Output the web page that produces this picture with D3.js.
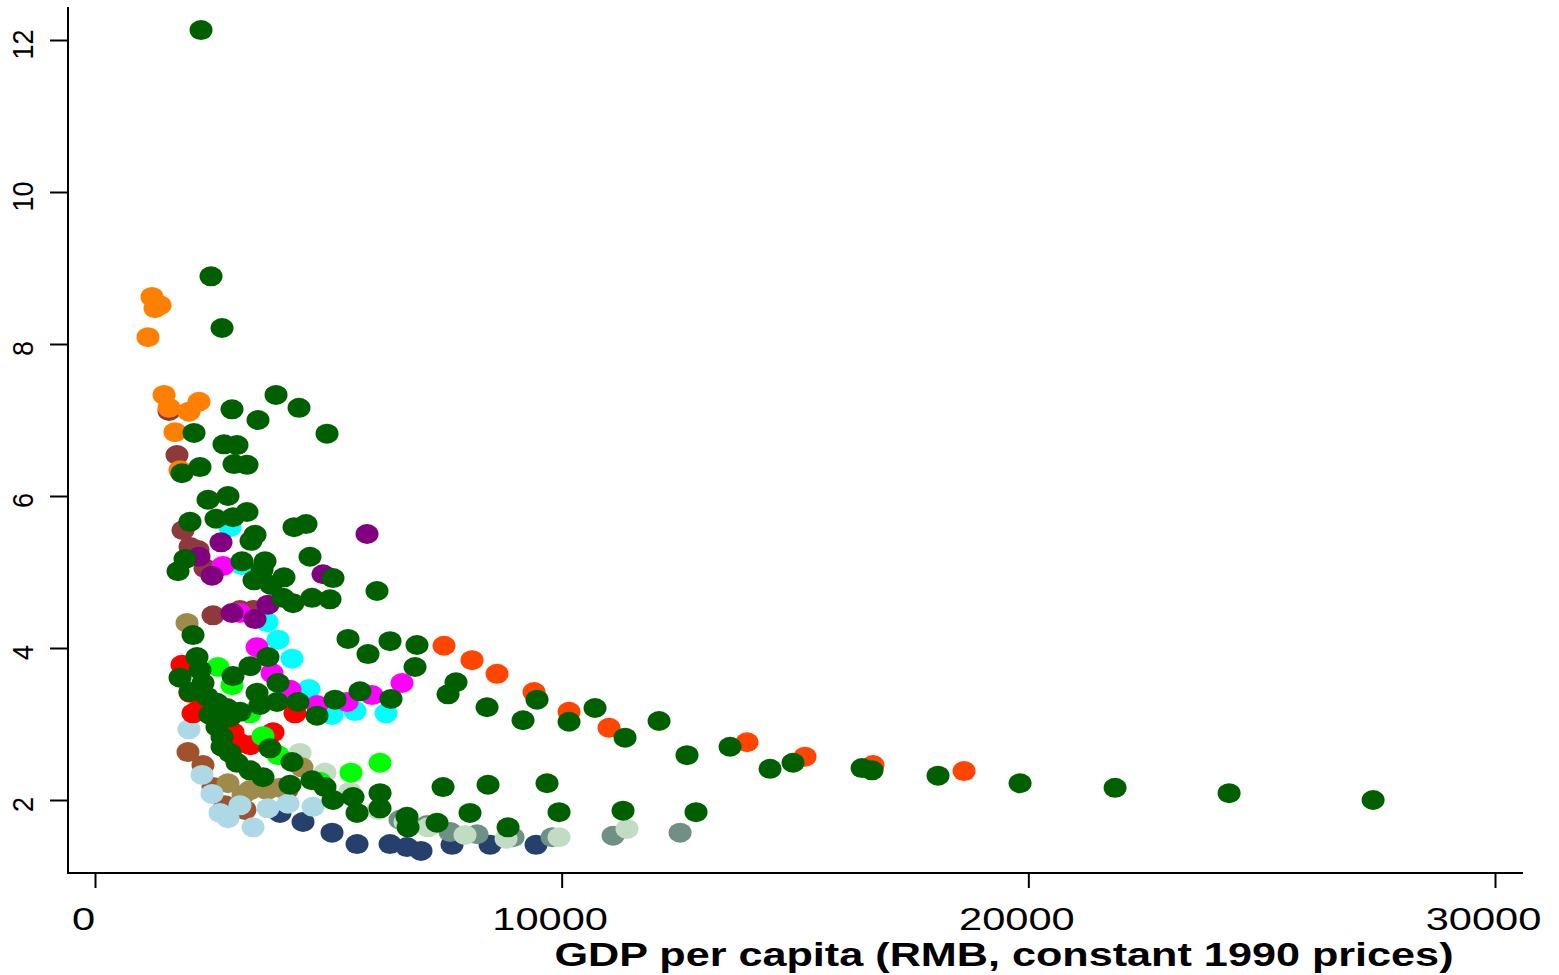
<!DOCTYPE html>
<html>
<head>
<meta charset="utf-8">
<script src="https://cdn.jsdelivr.net/npm/d3@7"></script>
<style>
  html, body { margin: 0; padding: 0; background: #fff; }
  svg { display: block; }
  text { font-family: "Liberation Sans", Arial, sans-serif; }
</style>
</head>
<body>
<svg id="chart" width="1559" height="975"></svg>
<script>
// ---------- DATA (GDP per capita, value) ----------
const xTicks = [0, 10000, 20000, 30000];
const yTicks = [2, 4, 6, 8, 10, 12];
const xTitle = "GDP per capita (RMB, constant 1990 prices)";

const navyPts = [[3964,1.83],[4457,1.71],[5079,1.57],[5615,1.42],[6322,1.42],[6686,1.38],[6986,1.33],[7651,1.41],[8465,1.41],[9451,1.41]];
const greyGreenPts = [[6536,1.74],[7115,1.67],[7608,1.58],[8186,1.55],[8958,1.51],[9794,1.51],[11101,1.53],[12537,1.57]];
const paleGreenPts = [[4393,2.62],[4929,2.36],[5465,2.11],[6065,1.87],[6643,1.71],[7136,1.64],[7929,1.54],[8808,1.49],[9944,1.51],[11401,1.62]];
const siennaPts = [[1993,2.63],[2314,2.46],[2529,2.17],[2786,1.93],[3215,1.87],[4114,2.13]];
const khakiPts = [[1972,4.33],[2850,2.22],[3172,2.07],[3322,2.13],[3686,2.13],[3964,2.16],[4436,2.43]];
const lightBluePts = [[2014,2.93],[2293,2.33],[2507,2.08],[2679,1.83],[2850,1.76],[3107,1.93],[3386,1.64],[3707,1.89],[4136,1.95],[4672,1.91]];
const redPts = [[1864,3.78],[2036,3.41],[2100,3.14],[2207,3.18],[2829,2.88],[2957,2.89],[3107,2.75],[3322,2.72],[3815,2.89],[4286,3.14]];
const limePts = [[2636,3.75],[2936,3.51],[3322,3.14],[3600,2.84],[3922,2.59],[4822,2.24],[5486,2.36],[6108,2.49]];
const maroonPts = [[1586,7.12],[1757,6.54],[1886,5.55],[2036,5.33],[2207,5.29],[2357,5.05],[2529,4.43],[3107,4.50],[3386,4.50]];
const cyanPts = [[2893,5.59],[3150,5.09],[3686,4.34],[3922,4.11],[4222,3.86],[4586,3.46],[5079,3.12],[5572,3.17],[6236,3.14]];
const magentaPts = [[2743,5.08],[3107,4.46],[3472,4.01],[3793,3.67],[4179,3.45],[4757,3.25],[5400,3.29],[5936,3.38],[6579,3.54]];
const purplePts = [[2700,5.39],[2229,5.20],[2507,4.95],[2936,4.46],[3429,4.38],[3707,4.57],[4886,4.97],[5829,5.50]];
const orangePts = [[1222,8.62],[1393,8.51],[1286,8.47],[1136,8.09],[1479,7.33],[1586,7.16],[2014,7.11],[2229,7.24],[1714,6.84],[1821,6.34]];
const orangeRedPts = [[7479,4.03],[8079,3.84],[8615,3.66],[9408,3.42],[10158,3.16],[11015,2.95],[13972,2.76],[15215,2.57],[16672,2.46],[18623,2.38]];
const darkGreenPts = [
  [2272,12.13],[2486,8.89],[2722,8.21],[3879,7.33],[4372,7.16],[2936,7.14],[3493,7.00],[4972,6.82],
  [2122,6.83],[2764,6.68],[3043,6.67],[2979,6.42],[3257,6.41],[2250,6.38],[1864,6.30],[2850,6.00],
  [2422,5.95],[3257,5.79],[2593,5.70],[2957,5.72],[2036,5.66],[4522,5.63],[4265,5.59],[3429,5.49],
  [3343,5.41],[4607,5.20],[3150,5.14],[3643,5.14],[1929,5.17],[1779,5.01],[3579,5.03],[5100,4.92],
  [4050,4.93],[3407,4.89],[3772,4.83],[4029,4.66],[4243,4.59],[4650,4.66],[5036,4.64],[6043,4.75],
  [5422,4.12],[6322,4.09],[6900,4.04],[5850,3.92],[6858,3.75],[7736,3.55],[7565,3.39],[6343,3.33],
  [5143,3.32],[8401,3.22],[9472,3.32],[10715,3.21],[4757,3.11],[9172,3.05],[10158,3.03],[12087,3.04],
  [11358,2.82],[12686,2.59],[13608,2.70],[14465,2.41],[14958,2.49],[16437,2.42],[16651,2.39],[18065,2.32],
  [19823,2.22],[21859,2.16],[24302,2.09],[27388,2.00],[5679,3.43],
  [2100,4.17],[2186,3.88],[2250,3.71],[1822,3.61],[2957,3.63],[3322,3.76],[3707,3.88],[3922,3.54],
  [3472,3.41],[2314,3.54],[2036,3.42],[2400,3.36],[2614,3.28],[2829,3.21],[2464,3.12],[2893,3.09],
  [3107,3.16],[3536,3.25],[3900,3.29],[4350,3.29],[2614,2.96],[2722,2.83],[2722,2.70],[2893,2.62],
  [3043,2.49],[3322,2.39],[3600,2.30],[3750,2.68],[4222,2.50],[4650,2.26],[4929,2.17],[5100,2.00],
  [5529,2.04],[5615,1.83],[6108,2.09],[6108,1.89],[6686,1.78],[6708,1.64],[7329,1.70],[7458,2.17],
  [8036,1.83],[8422,2.20],[9686,2.22],[9944,1.84],[11315,1.86],[12879,1.84],[8851,1.64],[4179,2.20]
];

// draw order (first drawn = bottom)
const groups = [
  { pts: navyPts,      color: "#26406e" },
  { pts: greyGreenPts, color: "#6f9085" },
  { pts: paleGreenPts, color: "#c2dcc4" },
  { pts: siennaPts,    color: "#a0522d" },
  { pts: khakiPts,     color: "#9e8a4a" },
  { pts: lightBluePts, color: "#add8e6" },
  { pts: redPts,       color: "#ff0000" },
  { pts: limePts,      color: "#00ff00" },
  { pts: maroonPts,    color: "#8e3a3c" },
  { pts: cyanPts,      color: "#00ffff" },
  { pts: magentaPts,   color: "#ff00ff" },
  { pts: purplePts,    color: "#800080" },
  { pts: orangePts,    color: "#ff8000" },
  { pts: orangeRedPts, color: "#ff4500" },
  { pts: darkGreenPts, color: "#006000" }
];

// ---------- CHART ----------
const svg = d3.select("#chart");
const x = d3.scaleLinear().domain([0, 30000]).range([95, 1495]);
const y = d3.scaleLinear().domain([2, 12]).range([800, 40]);

const plotLeft = 68, plotRight = 1523, plotTop = 7, plotBottom = 873;

// markers
const marks = svg.append("g");
groups.forEach(g => {
  marks.append("g").selectAll("ellipse").data(g.pts).join("ellipse")
    .attr("cx", d => x(d[0]))
    .attr("cy", d => y(d[1]))
    .attr("rx", 11.5)
    .attr("ry", 10)
    .attr("fill", g.color);
});

// axes lines
svg.append("line").attr("x1", plotLeft).attr("x2", plotLeft)
  .attr("y1", plotTop).attr("y2", plotBottom + 1)
  .attr("stroke", "#000").attr("stroke-width", 2);
svg.append("line").attr("x1", plotLeft - 1).attr("x2", plotRight)
  .attr("y1", plotBottom).attr("y2", plotBottom)
  .attr("stroke", "#000").attr("stroke-width", 2);

// x axis ticks via d3 axis
const xAxis = d3.axisBottom(x).tickValues(xTicks).tickSize(15).tickSizeOuter(0).tickFormat(d => d);
const gx = svg.append("g").attr("transform", `translate(0,${plotBottom})`).call(xAxis);
gx.select(".domain").remove();
gx.selectAll(".tick line").attr("stroke", "#000").attr("stroke-width", 2);
gx.selectAll(".tick text").remove();
gx.selectAll(".tick").append("text")
  .attr("transform", "translate(-12,57) scale(1.3,1)")
  .attr("text-anchor", "middle")
  .attr("fill", "#000")
  .style("font-size", "32px")
  .style("font-family", "'Liberation Sans', Arial, sans-serif")
  .text(d => d);

// y axis ticks
const yAxis = d3.axisLeft(y).tickValues(yTicks).tickSize(18).tickSizeOuter(0).tickFormat(d => d);
const gy = svg.append("g").attr("transform", `translate(${plotLeft},0)`).call(yAxis);
gy.select(".domain").remove();
gy.selectAll(".tick line").attr("stroke", "#000").attr("stroke-width", 2);
gy.selectAll(".tick text").remove();
gy.selectAll(".tick").append("text")
  .attr("transform", "translate(-35,4) rotate(-90) scale(1,1.12)")
  .attr("text-anchor", "middle")
  .attr("fill", "#000")
  .style("font-size", "27px")
  .style("font-family", "'Liberation Sans', Arial, sans-serif")
  .text(d => d);

// x title
svg.append("text")
  .attr("transform", "translate(1004,966) scale(1.27,1)")
  .attr("text-anchor", "middle")
  .attr("fill", "#000")
  .style("font-size", "34px")
  .style("font-weight", "bold")
  .style("font-family", "'Liberation Sans', Arial, sans-serif")
  .text(xTitle);
</script>
</body>
</html>
